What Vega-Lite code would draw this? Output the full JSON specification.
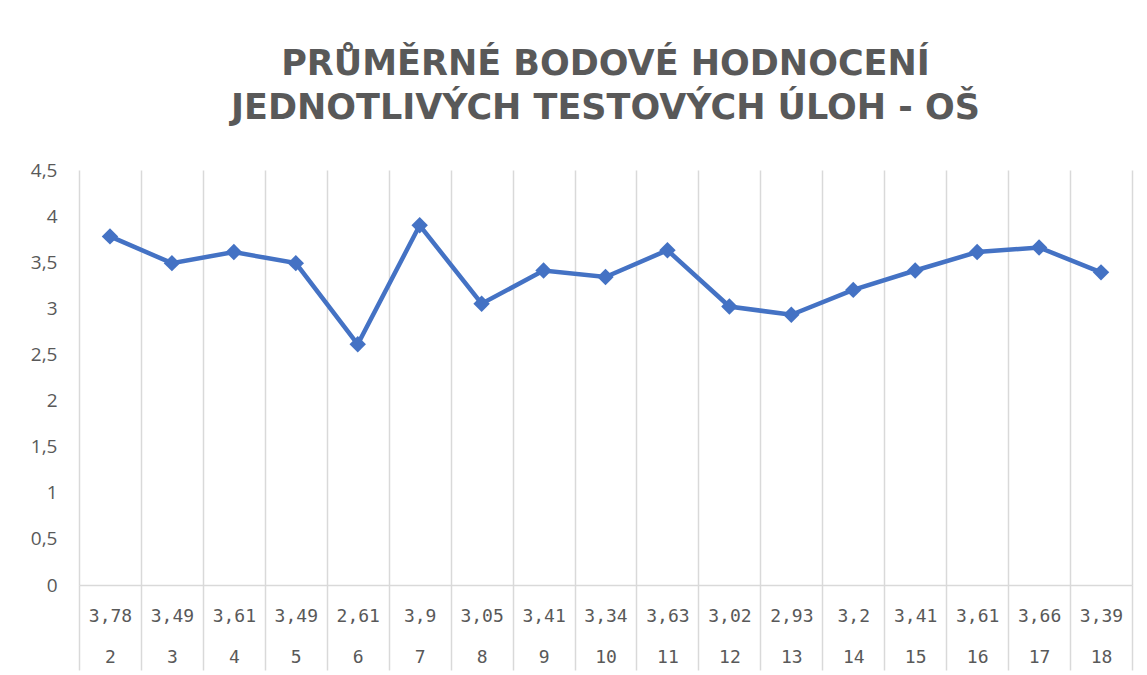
{
  "$schema": "https://vega.github.io/schema/vega-lite/v6.json",
  "width": 1053,
  "height": 415,
  "autosize": {"type": "none"},
  "padding": {"left": 79, "top": 170, "right": 15, "bottom": 90},
  "background": "white",
  "title": {
    "text": ["PRŮMĚRNÉ BODOVÉ HODNOCENÍ", "JEDNOTLIVÝCH TESTOVÝCH ÚLOH - OŠ"],
    "font": "DejaVu Sans",
    "fontSize": 35,
    "fontWeight": "bold",
    "color": "#595959",
    "anchor": "middle",
    "lineHeight": 44,
    "offset": 35
  },
  "data": {
    "values": [
      {"uloha": "2", "prumer": 3.78},
      {"uloha": "3", "prumer": 3.49},
      {"uloha": "4", "prumer": 3.61},
      {"uloha": "5", "prumer": 3.49},
      {"uloha": "6", "prumer": 2.61},
      {"uloha": "7", "prumer": 3.9},
      {"uloha": "8", "prumer": 3.05},
      {"uloha": "9", "prumer": 3.41},
      {"uloha": "10", "prumer": 3.34},
      {"uloha": "11", "prumer": 3.63},
      {"uloha": "12", "prumer": 3.02},
      {"uloha": "13", "prumer": 2.93},
      {"uloha": "14", "prumer": 3.2},
      {"uloha": "15", "prumer": 3.41},
      {"uloha": "16", "prumer": 3.61},
      {"uloha": "17", "prumer": 3.66},
      {"uloha": "18", "prumer": 3.39}
    ]
  },
  "transform": [
    {"calculate": "replace('' + datum.prumer, '.', ',') + '|' + datum.uloha", "as": "stitek"}
  ],
  "encoding": {
    "x": {
      "field": "stitek",
      "type": "nominal",
      "sort": null,
      "bandPosition": 0.5,
      "scale": {"type": "band", "paddingInner": 0, "paddingOuter": 0},
      "axis": {
        "title": null,
        "tickBand": "extent",
        "grid": true,
        "gridColor": "#d9d9d9",
        "gridWidth": 1.5,
        "ticks": true,
        "tickSize": 85,
        "tickColor": "#d9d9d9",
        "tickWidth": 1.5,
        "domain": true,
        "domainColor": "#d9d9d9",
        "domainWidth": 1.5,
        "labelAngle": 0,
        "labelExpr": "isValid(datum.value) ? split(datum.value, '|') : ''",
        "labelFont": "DejaVu Sans Mono",
        "labelFontSize": 18,
        "labelColor": "#595959",
        "labelLineHeight": 41,
        "labelPadding": -63,
        "labelBaseline": "top"
      }
    },
    "y": {
      "field": "prumer",
      "type": "quantitative",
      "scale": {"domain": [0, 4.5], "nice": false, "zero": true},
      "axis": {
        "title": null,
        "values": [0, 0.5, 1, 1.5, 2, 2.5, 3, 3.5, 4, 4.5],
        "grid": false,
        "ticks": false,
        "domain": false,
        "labelExpr": "replace(toString(datum.value), '.', ',')",
        "labelFont": "Open Sans",
        "labelFontSize": 19,
        "labelColor": "#595959",
        "labelPadding": 22
      }
    }
  },
  "layer": [
    {"mark": {"type": "line", "color": "#4472C4", "strokeWidth": 4.5}},
    {"mark": {"type": "point", "shape": "diamond", "filled": true, "size": 270, "color": "#4472C4", "opacity": 1}}
  ],
  "config": {"view": {"stroke": null}}
}
